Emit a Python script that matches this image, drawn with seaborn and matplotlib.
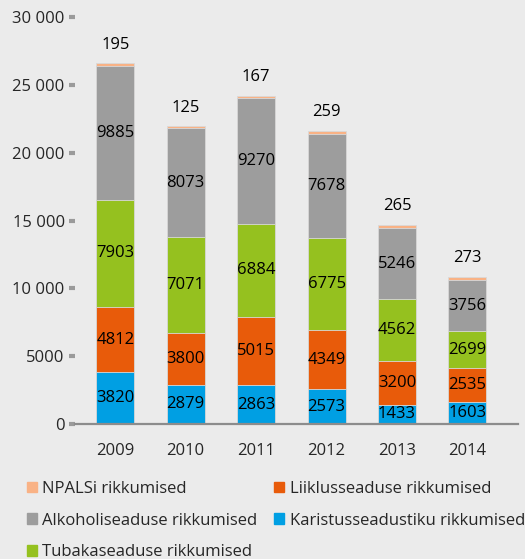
import numpy as np
import pandas as pd
import matplotlib.pyplot as plt
import matplotlib.patches as mpatches
import seaborn as sns

years = ['2009', '2010', '2011', '2012', '2013', '2014']
karistus = [3820, 2879, 2863, 2573, 1433, 1603]
liiklus = [4812, 3800, 5015, 4349, 3200, 2535]
tubakas = [7903, 7071, 6884, 6775, 4562, 2699]
alkohol = [9885, 8073, 9270, 7678, 5246, 3756]
npalsi = [195, 125, 167, 259, 265, 273]

names = ['Karistusseadustiku rikkumised', 'Liiklusseaduse rikkumised',
         'Tubakaseaduse rikkumised', 'Alkoholiseaduse rikkumised',
         'NPALSi rikkumised']
colors = ['#009fe3', '#e85b0a', '#95c11f', '#9d9d9d', '#f9b285']
tick_vals = [0, 5000, 10000, 15000, 20000, 25000, 30000]
tick_labels = ['0', '5000', '10 000', '15 000', '20 000', '25 000', '30 000']

sns.set_style('white')
plt.rcParams['font.family'] = ['Open Sans', 'DejaVu Sans']
bg = '#ebebeb'
fs = 12

series = [karistus, liiklus, tubakas, alkohol, npalsi]
df = pd.DataFrame(dict(zip(names, series)), index=years)
cum = df.cumsum(axis=1)

fig = plt.figure(figsize=(5.25, 5.59), dpi=100, facecolor=bg)
ax = fig.add_axes([0.143, 0.2415, 0.844, 0.728])
ax.set_facecolor(bg)

# stacked bars: draw cumulative totals from top layer down
for name, col in reversed(list(zip(names, colors))):
    sns.barplot(x=years, y=cum[name].values, color=col, width=0.54,
                saturation=1, edgecolor='#d9d9d9', linewidth=0.6, ax=ax)

# segment labels
for i, yr in enumerate(years):
    base = 0
    for name in names[:-1]:
        v = df.loc[yr, name]
        ax.text(i, base + v / 2, str(v), ha='center', va='center',
                fontsize=fs, color='black')
        base += v
    ax.text(i, cum.loc[yr, names[-1]] + 1350, str(df.loc[yr, names[-1]]),
            ha='center', va='center', fontsize=fs, color='black')

ax.set_ylim(0, 30000)
ax.set_xlim(-0.57, 5.72)
ax.set_yticks(tick_vals)
ax.set_yticklabels(tick_labels)
ax.set_ylabel('')
ax.tick_params(axis='y', length=4.5, width=3, color='#9a9a9a', pad=3,
               labelsize=fs, left=True)
ax.tick_params(axis='x', length=0, pad=14, labelsize=fs)
for s in ['top', 'right', 'left']:
    ax.spines[s].set_visible(False)
ax.spines['bottom'].set_color('#8c8c8c')
ax.spines['bottom'].set_linewidth(1.6)

order = [4, 3, 2, 1, 0]
handles = [mpatches.Patch(color=colors[k], label=names[k]) for k in order]
fig.legend(handles=handles, ncol=2, loc='upper left',
           bbox_to_anchor=(0.038, 0.152), frameon=False, fontsize=fs,
           handlelength=0.6, handleheight=0.6, handletextpad=0.35,
           columnspacing=1.0, labelspacing=0.95, borderaxespad=0)

fig.savefig('out.png', dpi=100, facecolor=bg)
